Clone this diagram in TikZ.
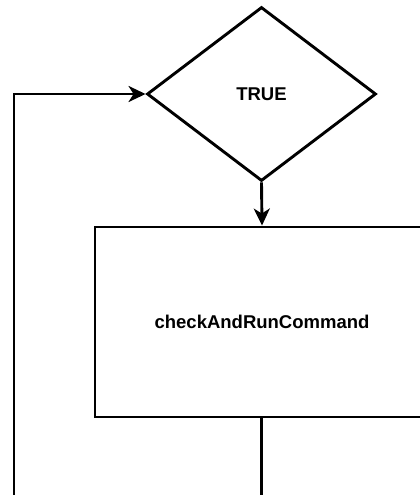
\documentclass[tikz,border=0pt]{standalone}
\usepackage{fontspec}
\setmainfont{Liberation Sans}
\usetikzlibrary{shapes.geometric,arrows.meta}
\begin{document}
\begin{tikzpicture}[x=1pt,y=-1pt,
  line width=2.9pt,
  lbl/.style={font=\fontsize{18.5}{22}\selectfont\bfseries},
  dec/.style={draw,diamond,inner sep=0pt,minimum width=229pt,minimum height=174pt,aspect=1.316,lbl},
  proc/.style={draw,rectangle,inner sep=0pt,minimum width=334pt,minimum height=190pt,lbl},
  arr/.style={-{Stealth[length=17pt,width=16pt,inset=5pt]}}]
\useasboundingbox (0,0) rectangle (420,495);
\clip (0,0) rectangle (420,495);
\fill[white] (0,0) rectangle (420,495);
\node[dec] (d) at (261.5,94) {TRUE};
\node[proc] (box) at (262,322) {checkAndRunCommand};
\coordinate (lb) at (14,500);
\coordinate (bb) at (261.5,500);
\draw[arr] (d.south) -- (box.north);
\draw[arr] (lb) |- (d.west);
\draw (box.south -| bb) -- (bb);
\end{tikzpicture}
\end{document}
